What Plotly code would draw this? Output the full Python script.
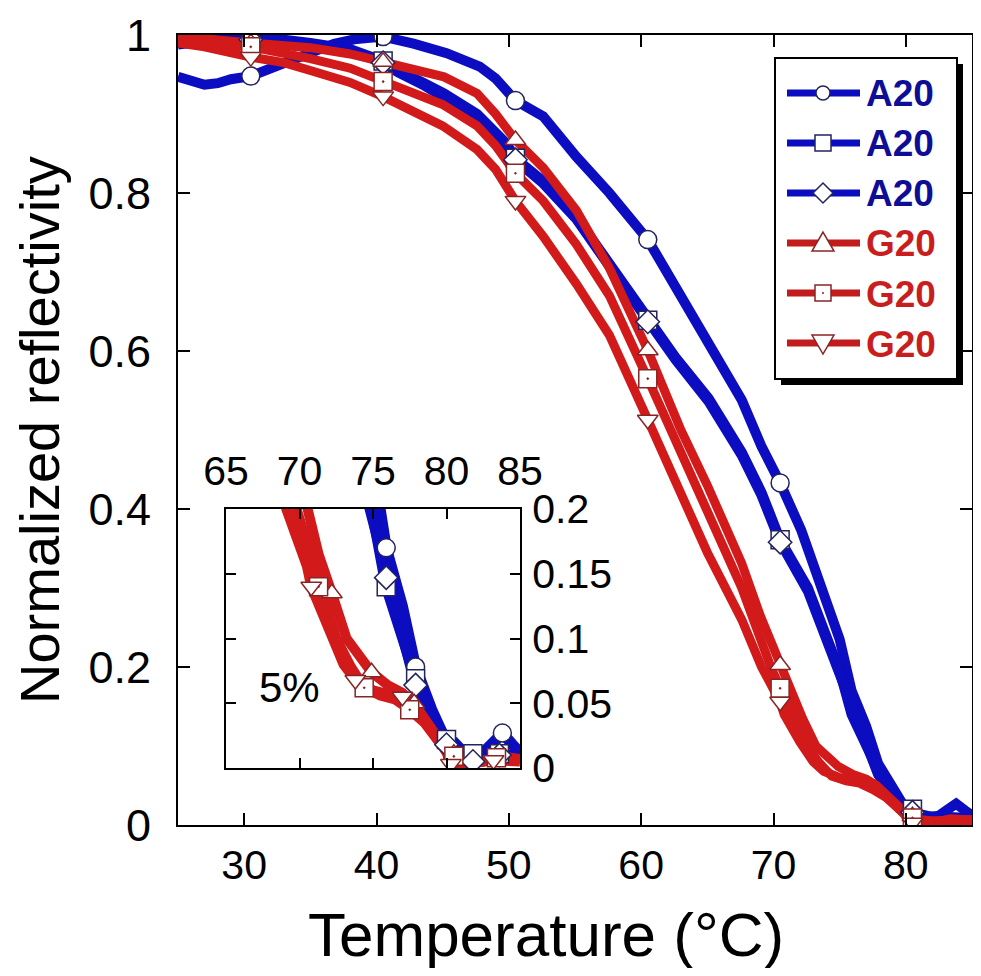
import plotly.graph_objects as go

# ---------------- data ----------------
# A20 sample 1 (circle)
A1_T = [25, 26, 27, 28, 29, 30.5, 32, 33.5, 35, 36.8, 38.5, 40.5, 42.8, 45.3, 47.8, 49, 50.5, 52.6, 55.1,
        57.6, 60.5, 62.6, 65.1, 67.6, 69.1, 70.5, 72.1, 73.8, 75, 75.9, 77, 77.9, 79, 80, 80.5, 81, 81.8,
        82.5, 83.2, 83.8, 84.5, 85]
A1_R = [0.947, 0.942, 0.937, 0.939, 0.944, 0.948, 0.958, 0.970, 0.980, 0.989, 0.995, 0.998, 0.989, 0.977,
        0.960, 0.945, 0.917, 0.897, 0.846, 0.800, 0.741, 0.681, 0.614, 0.538, 0.479, 0.433, 0.373, 0.297,
        0.235, 0.170, 0.125, 0.078, 0.045, 0.020, 0.015, 0.011, 0.009, 0.012, 0.020, 0.027, 0.018, 0.012]
# A20 sample 2 (square)
A2_T = [25, 27, 30.5, 33, 35, 38, 40.5, 41.6, 43.5, 45.1, 47.6, 49.8, 50.5, 52.6, 55.1, 57.6, 60.5, 62.6,
        65.1, 67.6, 69.1, 70.5, 72.6, 74.3, 75, 75.9, 77, 77.9, 79, 80, 80.5, 81, 81.8, 82.5, 83.6, 84.3, 85]
A2_R = [0.990, 0.993, 0.995, 0.994, 0.990, 0.982, 0.967, 0.955, 0.940, 0.926, 0.900, 0.863, 0.844, 0.815,
        0.770, 0.711, 0.639, 0.592, 0.540, 0.472, 0.421, 0.361, 0.300, 0.226, 0.195, 0.140, 0.100, 0.069,
        0.040, 0.022, 0.020, 0.014, 0.011, 0.010, 0.011, 0.010, 0.009]
# A20 sample 3 (diamond)
A3_T = [25, 27, 30.5, 33, 35, 38, 40.5, 41.6, 43.5, 45.1, 47.6, 49.8, 50.5, 52.6, 55.1, 57.6, 60.5, 62.6,
        65.1, 67.6, 69.1, 70.5, 72.6, 74.3, 75, 75.9, 77, 77.9, 79, 80, 80.5, 81, 81.8, 82.5, 83.6, 84.3, 85]
A3_R = [0.988, 0.992, 0.994, 0.993, 0.989, 0.980, 0.965, 0.953, 0.937, 0.922, 0.896, 0.860, 0.842, 0.812,
        0.767, 0.707, 0.637, 0.589, 0.536, 0.468, 0.417, 0.358, 0.296, 0.222, 0.190, 0.147, 0.097, 0.064,
        0.037, 0.018, 0.016, 0.010, 0.005, 0.006, 0.010, 0.009, 0.008]
# G20 sample 1 (triangle up)
G1_T = [25, 27, 30.5, 33, 35, 38, 40.5, 41.6, 43.5, 45.1, 47.6, 49, 50.5, 52.6, 55.1, 57.6, 60.5, 63, 65,
        67.6, 69, 70.5, 71.3, 72.2, 73.2, 74.9, 76, 77, 77.8, 79, 80, 80.5, 81, 82, 83.4, 84.3, 85]
G1_R = [1.000, 0.995, 0.990, 0.987, 0.984, 0.976, 0.966, 0.962, 0.955, 0.947, 0.926, 0.900, 0.867, 0.832,
        0.778, 0.705, 0.601, 0.500, 0.430, 0.331, 0.265, 0.2025, 0.165, 0.135, 0.100, 0.074, 0.064, 0.058,
        0.050, 0.030, 0.015, 0.011, 0.007, 0.005, 0.007, 0.008, 0.007]
# G20 sample 2 (square with dot)
G2_T = [25, 27, 30.5, 33, 35, 38, 40.5, 42, 45, 47.6, 49, 50.5, 52.6, 55.1, 57.6, 60.5, 63, 65, 67.6, 69.8,
        70.5, 71.3, 72.5, 73.5, 74.4, 75.5, 76.5, 77.5, 78.5, 79.5, 80.5, 81.5, 82.5, 83.4, 84.3, 85]
G2_R = [0.995, 0.990, 0.985, 0.977, 0.970, 0.958, 0.941, 0.932, 0.912, 0.885, 0.860, 0.825, 0.790, 0.735,
        0.670, 0.565, 0.470, 0.400, 0.300, 0.200, 0.173, 0.140, 0.100, 0.078, 0.062, 0.056, 0.053, 0.045,
        0.035, 0.020, 0.009, 0.005, 0.005, 0.008, 0.008, 0.006]
# G20 sample 3 (triangle down)
G3_T = [25, 27, 30.5, 33, 35, 38, 40.5, 42, 45, 47.6, 49, 50.5, 52.6, 55.1, 57.6, 60.5, 63, 65, 67.6, 69.1,
        70.5, 70.8, 72, 73, 73.8, 75, 76, 77, 78, 79, 80, 80.3, 80.5, 81, 82, 83.2, 84, 85]
G3_R = [0.990, 0.985, 0.972, 0.965, 0.955, 0.940, 0.922, 0.910, 0.885, 0.855, 0.830, 0.790, 0.745, 0.685,
        0.620, 0.513, 0.420, 0.345, 0.260, 0.200, 0.156, 0.140, 0.105, 0.080, 0.068, 0.060, 0.057, 0.055,
        0.045, 0.028, 0.012, 0.003, 0.003, 0.003, 0.004, 0.006, 0.006, 0.005]

# temperatures at which symbols are shown (main plot / inset)
MAIN_MARK_T = [30.5, 40.5, 50.5, 60.5, 70.5, 80.5]
A1_INSET_MARK_T = [75.9, 77.9, 80, 81.8, 83.8]
A2_INSET_MARK_T = [75.9, 77.9, 80, 81.8, 83.6]
A3_INSET_MARK_T = [75.9, 77.9, 80, 81.8, 83.6]
G1_INSET_MARK_T = [72.2, 74.9, 77.8, 80.5, 83.4]
G2_INSET_MARK_T = [71.3, 74.4, 77.5, 80.5, 83.4]
G3_INSET_MARK_T = [70.8, 73.8, 77, 80.3, 83.2]

LABELS = ["A20", "A20", "A20", "G20", "G20", "G20"]
MAIN_XTICKS = [30, 40, 50, 60, 70, 80]
MAIN_YTICKS = [0, 0.2, 0.4, 0.6, 0.8, 1]
INSET_XTICKS = [65, 70, 75, 80, 85]
INSET_YTICKS = [0, 0.05, 0.1, 0.15, 0.2]
INSET_NOTE = "5%"

# ---------------- styling ----------------
FONT = "Liberation Sans, Arial, sans-serif"
BLUE = "#0c0cc0"
RED = "#d31a1a"
BLUE_EDGE = "#23235e"
RED_EDGE = "#8a2424"
BLUE_TXT = "#0d0d96"
RED_TXT = "#c81e1e"

series = [
    (A1_T, A1_R, A1_INSET_MARK_T, "circle", BLUE, BLUE_EDGE, BLUE_TXT, 10),
    (A2_T, A2_R, A2_INSET_MARK_T, "square", BLUE, BLUE_EDGE, BLUE_TXT, 10),
    (A3_T, A3_R, A3_INSET_MARK_T, "diamond", BLUE, BLUE_EDGE, BLUE_TXT, 10),
    (G1_T, G1_R, G1_INSET_MARK_T, "triangle-up", RED, RED_EDGE, RED_TXT, 9),
    (G2_T, G2_R, G2_INSET_MARK_T, "square-dot", RED, RED_EDGE, RED_TXT, 9),
    (G3_T, G3_R, G3_INSET_MARK_T, "triangle-down", RED, RED_EDGE, RED_TXT, 9),
]

# page geometry (the page body has an 8 px margin)
BODY = 8
FIG_W, FIG_H = 981 - 2 * BODY, 976 - 2 * BODY
PL, PR, PT, PB = 178, 972, 35, 825          # plot area in window pixels
PW, PH = PR - PL, PB - PT


def pxx(x):
    return (x - PL) / PW


def pxy(y):
    return (PB - y) / PH


fig = go.Figure()

# lines (main + inset)
for T, R, _, sym, col, edge, txt, lw in series:
    for xa, ya, w in (("x", "y", lw), ("x2", "y2", lw + 1)):
        fig.add_trace(go.Scatter(x=T, y=R, mode="lines", xaxis=xa, yaxis=ya,
                                 line=dict(color=col, width=w), showlegend=False,
                                 hoverinfo="skip"))

# symbols on top
for T, R, inset_t, sym, col, edge, txt, lw in series:
    lookup = dict(zip(T, R))
    for xa, ya, mt in (("x", "y", MAIN_MARK_T), ("x2", "y2", inset_t)):
        fig.add_trace(go.Scatter(x=mt, y=[lookup[t] for t in mt], mode="markers",
                                 xaxis=xa, yaxis=ya, showlegend=False,
                                 marker=dict(symbol=sym, size=18, color="white",
                                             line=dict(color=edge, width=1.5))))

axis_common = dict(showgrid=False, zeroline=False, showline=True, linecolor="black",
                   linewidth=2, ticks="inside", tickcolor="black", tickwidth=2,
                   mirror="ticks", automargin=False)

fig.update_layout(
    width=FIG_W, height=FIG_H,
    margin=dict(l=PL - BODY, r=FIG_W - (PR - BODY), t=PT - BODY, b=FIG_H - (PB - BODY),
                autoexpand=False),
    paper_bgcolor="white", plot_bgcolor="white",
    font=dict(family=FONT, color="black"),
    showlegend=False,
    xaxis=dict(range=[25, 85], tickvals=MAIN_XTICKS, ticklen=12,
               tickfont=dict(size=41), ticklabelstandoff=3, **axis_common),
    yaxis=dict(range=[0, 1], tickvals=MAIN_YTICKS, ticklen=12,
               tickfont=dict(size=45), ticklabelstandoff=16, **axis_common),
    xaxis2=dict(domain=[pxx(226), pxx(520)], anchor="y2", side="top", range=[65, 85],
                tickvals=INSET_XTICKS, ticklen=10, tickfont=dict(size=41),
                ticklabelstandoff=6, **axis_common),
    yaxis2=dict(domain=[pxy(768), pxy(509)], anchor="x2", side="right", range=[0, 0.2],
                tickvals=INSET_YTICKS, ticklen=10, tickfont=dict(size=41),
                ticklabelstandoff=2, **axis_common),
)

# ---------------- legend (drawn as layout shapes and text) ----------------
LEG_X0, LEG_X1, LEG_Y0, LEG_Y1 = 775, 957, 58, 379
SHADOW = 6
fig.add_shape(type="rect", xref="paper", yref="paper",
              x0=pxx(LEG_X0 + SHADOW), x1=pxx(LEG_X1 + SHADOW),
              y0=pxy(LEG_Y1 + SHADOW), y1=pxy(LEG_Y0 + SHADOW),
              fillcolor="black", line=dict(width=0), layer="above")
fig.add_shape(type="rect", xref="paper", yref="paper",
              x0=pxx(LEG_X0), x1=pxx(LEG_X1), y0=pxy(LEG_Y1), y1=pxy(LEG_Y0),
              fillcolor="white", line=dict(color="black", width=2), layer="above")

LINE_X0, LINE_X1, SYM_X, TEXT_X = 787, 860, 823, 864
for i, ((T, R, _, sym, col, edge, txt, lw), lab) in enumerate(zip(series, LABELS)):
    cy = 93 + 50 * i
    lcol = col if col == BLUE else "#c21c1c"
    fig.add_shape(type="line", xref="paper", yref="paper",
                  x0=pxx(LINE_X0), x1=pxx(LINE_X1), y0=pxy(cy), y1=pxy(cy),
                  line=dict(color=lcol, width=7), layer="above")
    s = dict(xref="paper", yref="paper", fillcolor="white",
             line=dict(color=edge, width=1.5), layer="above")
    if sym == "circle":
        fig.add_shape(type="circle", x0=pxx(SYM_X - 7), x1=pxx(SYM_X + 7),
                      y0=pxy(cy + 7), y1=pxy(cy - 7), **s)
    elif sym in ("square", "square-dot"):
        fig.add_shape(type="rect", x0=pxx(SYM_X - 8), x1=pxx(SYM_X + 8),
                      y0=pxy(cy + 8), y1=pxy(cy - 8), **s)
        if sym == "square-dot":
            fig.add_shape(type="circle", x0=pxx(SYM_X - 1), x1=pxx(SYM_X + 1),
                          y0=pxy(cy + 1), y1=pxy(cy - 1), xref="paper", yref="paper",
                          fillcolor=edge, line=dict(width=0), layer="above")
    else:
        if sym == "diamond":
            pts = [(0, -10), (10, 0), (0, 10), (-10, 0)]
        elif sym == "triangle-up":
            pts = [(0, -11), (11, 8), (-11, 8)]
        else:
            pts = [(-11, -8), (11, -8), (0, 11)]
        path = "M " + " L ".join(f"{pxx(SYM_X + dx):.5f},{pxy(cy + dy):.5f}" for dx, dy in pts) + " Z"
        fig.add_shape(type="path", path=path, **s)
    fig.add_annotation(text=f"<b>{lab}</b>", xref="paper", yref="paper",
                       x=pxx(TEXT_X), y=pxy(cy + 1), xanchor="left", yanchor="middle",
                       showarrow=False, font=dict(size=37, color=txt, family=FONT))

# ---------------- axis titles and inset note ----------------
fig.add_annotation(text="Temperature (°C)", xref="paper", yref="paper",
                   x=pxx(546), y=pxy(971), xanchor="center", yanchor="bottom",
                   showarrow=False, font=dict(size=62))
fig.add_annotation(text="Normalized reflectivity", xref="paper", yref="paper",
                   x=pxx(39), y=0.5, xanchor="center", yanchor="middle",
                   textangle=-90, showarrow=False, font=dict(size=56))
fig.add_annotation(text=INSET_NOTE, xref="x2", yref="y2", x=69.3, y=0.062,
                   xanchor="center", yanchor="middle", showarrow=False,
                   font=dict(size=42))

fig.write_html("out.html")
